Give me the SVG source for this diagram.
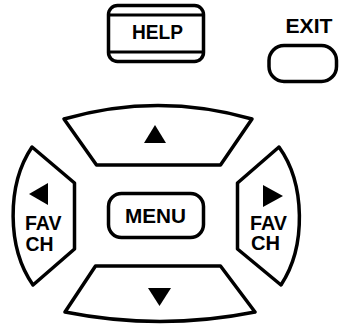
<svg xmlns="http://www.w3.org/2000/svg" width="339" height="328" viewBox="0 0 339 328">
<style>
.btn{fill:#fff;stroke:#000;stroke-width:3.5;stroke-linejoin:round}
.ln{stroke:#000;stroke-width:3;fill:none}
.tri{fill:#000}
.lbl{font-family:"Liberation Sans",Arial,sans-serif;font-weight:bold;fill:#000}
</style>
<rect width="339" height="328" fill="#fff"/>
<g id="connectors"/>
<g id="help">
<rect class="btn" x="108.5" y="5.5" width="95" height="56" rx="9"/>
<line class="ln" x1="108.5" y1="15" x2="203.5" y2="15"/>
<line class="ln" x1="108.5" y1="52" x2="203.5" y2="52"/>
<text class="lbl" x="157.5" y="39" font-size="19.5" text-anchor="middle" textLength="51" lengthAdjust="spacingAndGlyphs">HELP</text>
</g>
<g id="exit">
<text class="lbl" x="309" y="32.5" font-size="19.5" text-anchor="middle" textLength="47" lengthAdjust="spacingAndGlyphs">EXIT</text>
<rect class="btn" x="269" y="45.5" width="67.5" height="36" rx="15"/>
</g>
<g id="up">
<path class="btn" d="M64,119 Q158,92 252,119 L220.5,165 L96.5,165 Z"/>
<polygon class="tri" points="155,125 144,143 166,143"/>
</g>
<g id="left">
<path class="btn" d="M32,147 L74.5,183 L74.5,249 L33,285 A62 95 0 0 1 32,147 Z"/>
<polygon class="tri" points="29,194 48,183 48,205"/>
<text class="lbl" x="25" y="230" font-size="20" textLength="36.5" lengthAdjust="spacingAndGlyphs">FAV</text>
<text class="lbl" x="25.5" y="250.5" font-size="20" textLength="28" lengthAdjust="spacingAndGlyphs">CH</text>
</g>
<g id="right">
<path class="btn" d="M279,147 L237.5,183 L237.5,249 L281,285 A62 95 0 0 0 279,147 Z"/>
<polygon class="tri" points="263,185 263,207 283,196"/>
<text class="lbl" x="250" y="229.5" font-size="20" textLength="37" lengthAdjust="spacingAndGlyphs">FAV</text>
<text class="lbl" x="251" y="250" font-size="20" textLength="29" lengthAdjust="spacingAndGlyphs">CH</text>
</g>
<g id="menu">
<rect class="btn" x="108.5" y="193.5" width="95" height="44" rx="13"/>
<text class="lbl" x="155.5" y="223" font-size="21" text-anchor="middle" textLength="61" lengthAdjust="spacingAndGlyphs">MENU</text>
</g>
<g id="down">
<path class="btn" d="M95.5,266 L220.5,266 L255,312 Q160,331 65,312 Z"/>
<polygon class="tri" points="148,288 171,288 159.5,306"/>
</g>
</svg>
